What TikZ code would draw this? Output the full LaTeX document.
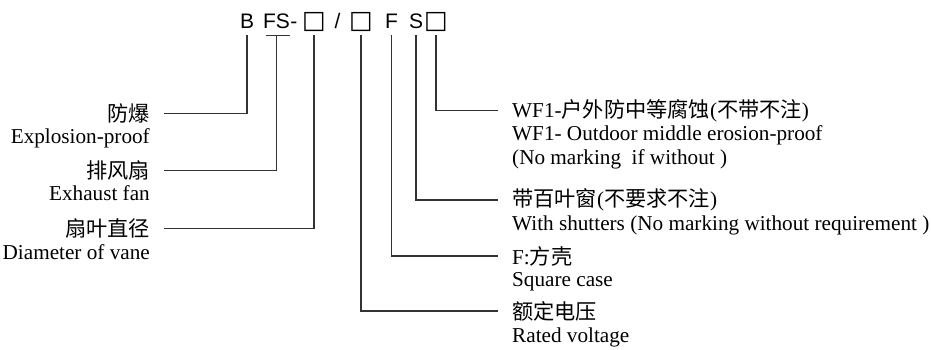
\documentclass[tikz,border=0pt]{standalone}
\usepackage{fontspec}
\setmainfont{Liberation Serif}
\setsansfont{Liberation Sans}
\newfontfamily\cjkfont{Noto Sans CJK SC}
\newfontfamily\boxfont{DejaVu Sans}
\newcommand\zh[1]{{\cjkfont #1}}
\usetikzlibrary{positioning}

\begin{document}
\begin{tikzpicture}[
  x=1pt, y=-1pt,
  codepart/.style={
    inner sep=0pt,
    text height=15pt,
    text depth=0pt,
    anchor=base,
    font=\sffamily\fontsize{21}{24}\selectfont
    },
  codebox/.style={
    codepart,
    font=\boxfont\fontsize{25}{25}\selectfont
    },
  label/.style={
    inner xsep=14pt,
    inner ysep=0pt,
    font=\fontsize{21.2}{24}\selectfont
    },
  link/.style={draw=black!80, line width=1.4pt}
]
\useasboundingbox (0,0) rectangle (931,349);

% model code
\node [codepart] (cB) at (247,28) {B};
\node [codepart] (cFS) at (276.5,28) {FS};
\node [codepart, anchor=base west] (cDash) at (cFS.base east) {-};
\node [codebox] (cD) at (314,28) {□};
\node [codepart] (cSl) at (337.5,28) {/};
\node [codebox] (cV) at (361,28) {□};
\node [codepart] (cF) at (391.5,28) {F};
\node [codepart] (cS) at (416,28) {S};
\node [codebox] (cW) at (436,28) {□};

% left labels
\node [label, anchor=base east] (fb) at (164,121.5) {\zh{防爆}};
\node [label, anchor=base east] (fbE) at ([yshift=-21.5pt]fb.base east) {Explosion-proof};
\node [label, anchor=base east] (pf) at (164,178.5) {\zh{排风扇}};
\node [label, anchor=base east] (pfE) at ([yshift=-21.5pt]pf.base east) {Exhaust fan};
\node [label, anchor=base east] (zj) at (164,236.5) {\zh{扇叶直径}};
\node [label, anchor=base east] (zjE) at ([yshift=-23pt]zj.base east) {Diameter of vane};

% right labels
\node [label, anchor=base west] (wf) at (498,117) {WF1-\zh{户外防中等腐蚀}(\zh{不带不注})};
\node [label, anchor=base west] (wfE) at ([yshift=-23.5pt]wf.base west) {WF1- Outdoor middle erosion-proof};
\node [label, anchor=base west] (wfN) at ([yshift=-23.5pt]wfE.base west) {(No marking\ \ if without )};
\node [label, anchor=base west] (bj) at (498,206.5) {\zh{带百叶窗}(\zh{不要求不注})};
\node [label, anchor=base west] (bjE) at ([yshift=-23.5pt]bj.base west) {With shutters (No marking without requirement )};
\node [label, anchor=base west] (fk) at (498,264) {F:\zh{方壳}};
\node [label, anchor=base west] (fkE) at ([yshift=-22.5pt]fk.base west) {Square case};
\node [label, anchor=base west] (ed) at (498,319) {\zh{额定电压}};
\node [label, anchor=base west] (edE) at ([yshift=-23pt]ed.base west) {Rated voltage};

% connectors
\draw [link] ([xshift=3pt,yshift=-7pt]cFS.south west) -- ([yshift=-7pt]cFS.south east);
\foreach \c/\l in {cB/fb, cFS/pf, cD/zj}
  \draw [link] ([yshift=-7pt]\c.south) |- (\l.east);
\foreach \c/\l in {cV/ed, cF/fk, cS/bj, cW/wf}
  \draw [link] ([yshift=-7pt]\c.south) |- (\l.west);

\end{tikzpicture}
\end{document}
